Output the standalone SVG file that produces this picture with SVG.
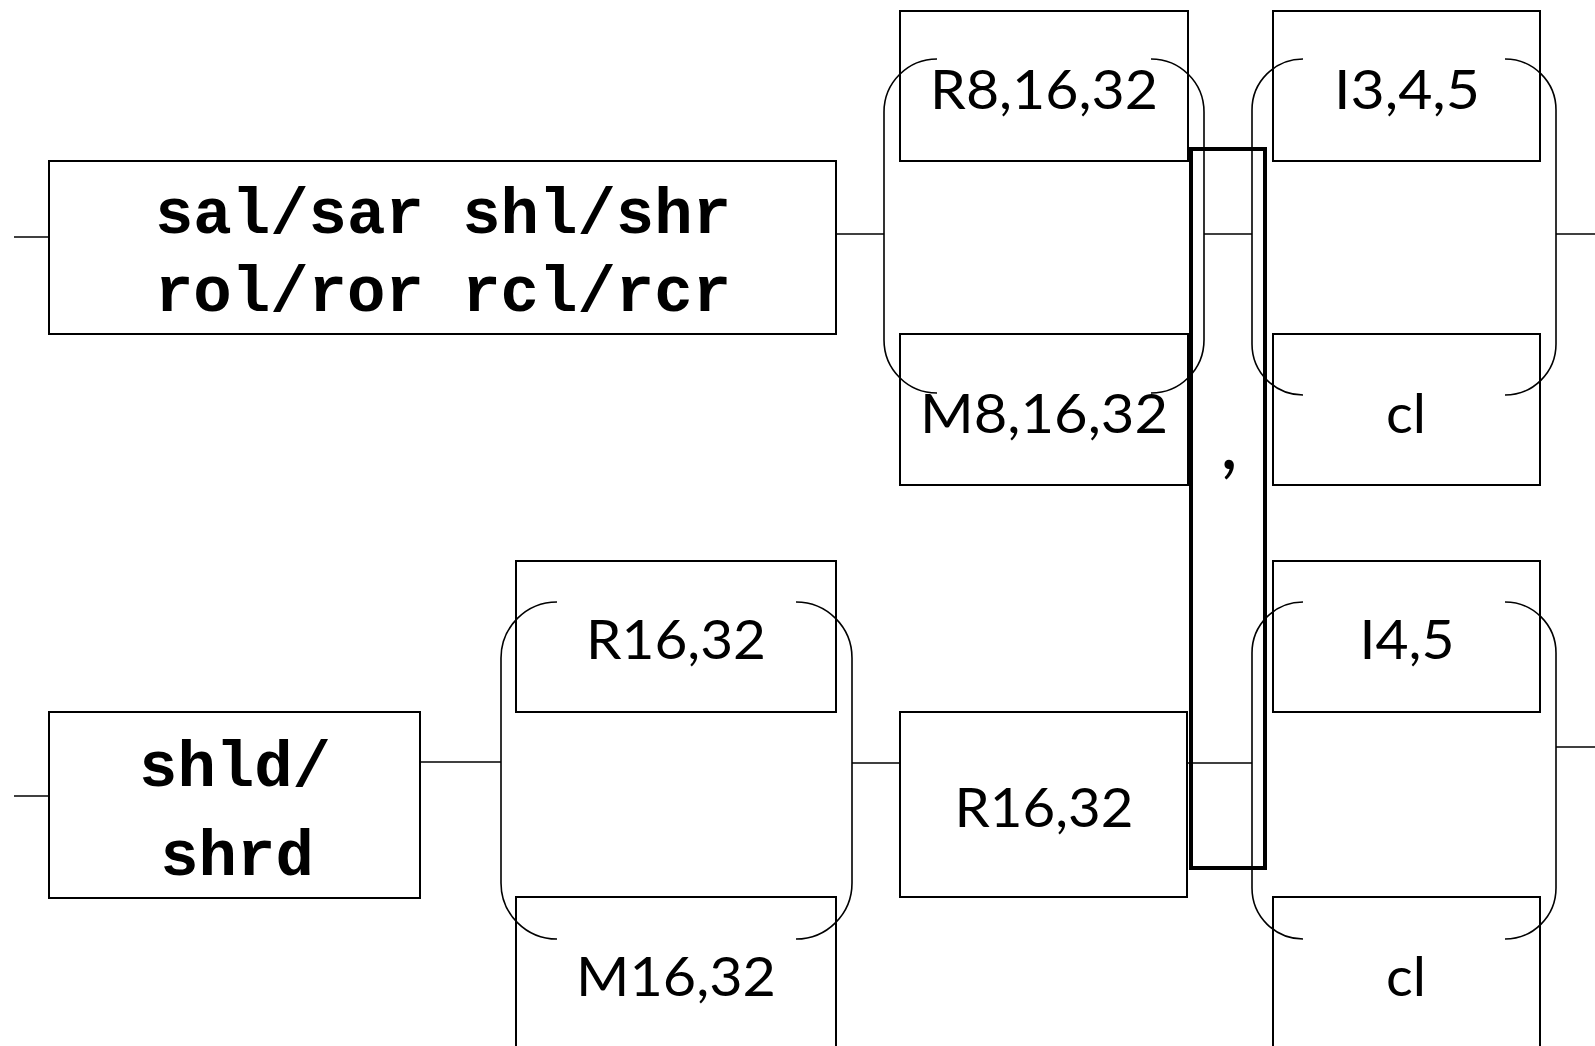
<svg xmlns="http://www.w3.org/2000/svg" width="1595" height="1046" viewBox="0 0 1595 1046">
<style>
.box{fill:none;stroke:#000;stroke-width:2}
.brk{fill:none;stroke:#000;stroke-width:1.6}
.ln{fill:none;stroke:#000;stroke-width:1.6}
.thick{fill:none;stroke:#000;stroke-width:4}
.mono{font-family:"Liberation Mono","Courier New",monospace;font-weight:bold;font-size:64px;fill:#000;text-anchor:middle}
.lbl{font-family:Lato,"Open Sans",sans-serif;font-size:55px;fill:#000;text-anchor:middle}
</style>
<rect width="1595" height="1046" fill="#fff"/>
<g id="connectors">
<line class="ln" x1="14" y1="237" x2="48" y2="237"/>
<line class="ln" x1="836" y1="234" x2="884" y2="234"/>
<line class="ln" x1="1204" y1="234" x2="1252" y2="234"/>
<line class="ln" x1="1556" y1="234" x2="1595" y2="234"/>
<line class="ln" x1="14" y1="796" x2="48" y2="796"/>
<line class="ln" x1="420" y1="762" x2="501" y2="762"/>
<line class="ln" x1="852" y1="763" x2="900" y2="763"/>
<line class="ln" x1="1187" y1="763" x2="1252" y2="763"/>
<line class="ln" x1="1556" y1="747" x2="1595" y2="747"/>
</g>
<g id="n-salsar">
<rect class="box" x="49" y="161" width="787" height="173"/>
<text class="mono" x="443" y="233">sal/sar shl/shr</text>
<text class="mono" x="443" y="311">rol/ror rcl/rcr</text>
</g>
<g id="n-shld">
<rect class="box" x="49" y="712" width="371" height="186"/>
<text class="mono" x="235" y="786">shld/</text>
<text class="mono" x="237" y="875">shrd</text>
</g>
<g id="n-r8">
<rect class="box" x="900" y="11" width="288" height="150"/>
<text class="lbl" x="1044" y="109" textLength="228" lengthAdjust="spacingAndGlyphs">R8,16,32</text>
</g>
<g id="n-m8">
<rect class="box" x="900" y="334" width="288" height="151"/>
<text class="lbl" x="1044" y="433" textLength="248" lengthAdjust="spacingAndGlyphs">M8,16,32</text>
</g>
<g id="n-i3">
<rect class="box" x="1273" y="11" width="267" height="150"/>
<text class="lbl" x="1407" y="109" textLength="146" lengthAdjust="spacingAndGlyphs">I3,4,5</text>
</g>
<g id="n-cl1">
<rect class="box" x="1273" y="334" width="267" height="151"/>
<text class="lbl" x="1406" y="433" textLength="40" lengthAdjust="spacingAndGlyphs">cl</text>
</g>
<g id="n-r16a">
<rect class="box" x="516" y="561" width="320" height="151"/>
<text class="lbl" x="676" y="659" textLength="180" lengthAdjust="spacingAndGlyphs">R16,32</text>
</g>
<g id="n-m16">
<rect class="box" x="516" y="897" width="320" height="160"/>
<text class="lbl" x="676" y="996" textLength="200" lengthAdjust="spacingAndGlyphs">M16,32</text>
</g>
<g id="n-r16b">
<rect class="box" x="900" y="712" width="287" height="185"/>
<text class="lbl" x="1044" y="827" textLength="179" lengthAdjust="spacingAndGlyphs">R16,32</text>
</g>
<g id="n-i4">
<rect class="box" x="1273" y="561" width="267" height="151"/>
<text class="lbl" x="1407" y="659" textLength="95" lengthAdjust="spacingAndGlyphs">I4,5</text>
</g>
<g id="n-cl2">
<rect class="box" x="1273" y="897" width="267" height="160"/>
<text class="lbl" x="1406" y="996" textLength="40" lengthAdjust="spacingAndGlyphs">cl</text>
</g>
<g id="n-brackets">
<path class="brk" d="M937 59 A53 53 0 0 0 884 112 V340 A53 53 0 0 0 937 393 M1151 59 A53 53 0 0 1 1204 112 V340 A53 53 0 0 1 1151 393"/>
<path class="brk" d="M1303 59 A51 51 0 0 0 1252 110 V344 A51 51 0 0 0 1303 395 M1505 59 A51 51 0 0 1 1556 110 V344 A51 51 0 0 1 1505 395"/>
<path class="brk" d="M557 602 A56 56 0 0 0 501 658 V883 A56 56 0 0 0 557 939 M796 602 A56 56 0 0 1 852 658 V883 A56 56 0 0 1 796 939"/>
<path class="brk" d="M1303 602 A51 51 0 0 0 1252 653 V888 A51 51 0 0 0 1303 939 M1505 602 A51 51 0 0 1 1556 653 V888 A51 51 0 0 1 1505 939"/>
</g>
<g id="n-sep">
<rect class="thick" x="1191" y="149" width="74" height="719"/>
<text class="lbl" x="1229" y="469" style="font-size:78px">,</text>
</g>
</svg>
